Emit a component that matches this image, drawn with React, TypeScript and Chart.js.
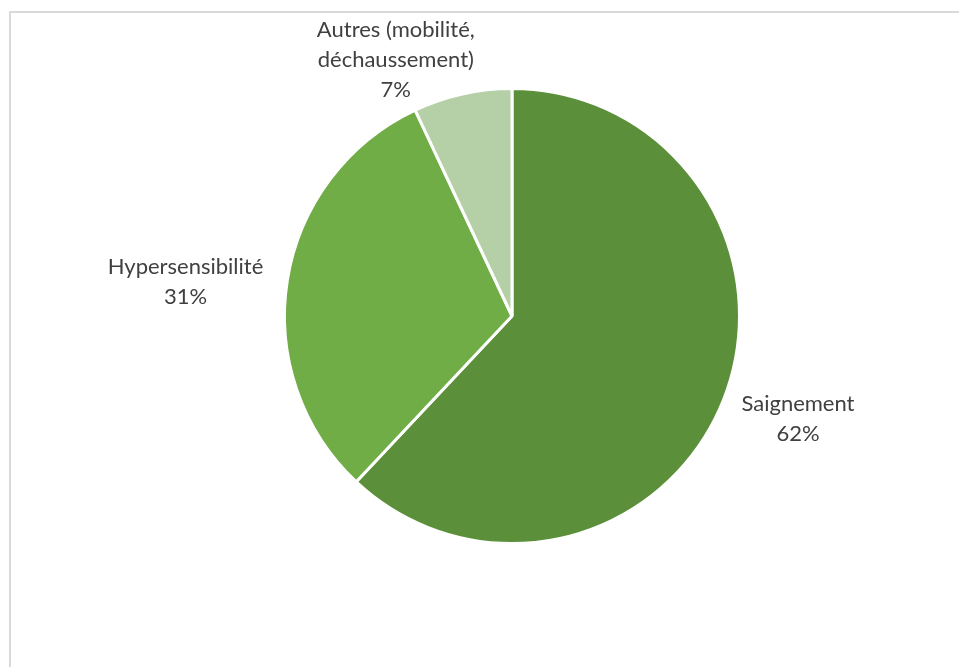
import React, { useEffect, useRef } from "react";
import { Chart, registerables } from "chart.js";

Chart.register(...registerables);

const categories: string[][] = [
  ["Saignement"],
  ["Hypersensibilité"],
  ["Autres (mobilité,", "déchaussement)"],
];
const values: number[] = [62, 31, 7];
const percentLabels: string[] = ["62%", "31%", "7%"];
const colors: string[] = ["#5B8F3A", "#70AD47", "#B5CFA6"];

const labelPlugin = {
  id: "outsideLabels",
  afterDatasetsDraw(chart: any, _args: any, opts: any) {
    const ctx = chart.ctx;
    const meta = chart.getDatasetMeta(0);
    const font = opts.font;
    const lh = opts.lineHeight;
    ctx.save();
    ctx.font = font;
    ctx.fillStyle = opts.color;
    ctx.textAlign = "center";
    ctx.textBaseline = "middle";
    meta.data.forEach((arc: any, i: number) => {
      const p = arc.getProps(["x", "y", "startAngle", "endAngle", "outerRadius"], true);
      const mid = (p.startAngle + p.endAngle) / 2;
      const off = opts.offsets[i] || [0, 0, 0];
      const d = p.outerRadius + off[0];
      const cx = p.x + Math.cos(mid) * d + off[1];
      const cy = p.y + Math.sin(mid) * d + off[2];
      const lines = [...categories[i], percentLabels[i]];
      const top = cy - ((lines.length - 1) * lh) / 2;
      lines.forEach((t, j) => ctx.fillText(t, cx, top + j * lh));
    });
    ctx.restore();
  },
};

export default function App() {
  const ref = useRef<HTMLCanvasElement | null>(null);
  useEffect(() => {
    if (!ref.current) return;
    const chart = new Chart(ref.current, {
      type: "pie",
      data: {
        labels: categories.map((c) => c.join(" ")),
        datasets: [
          {
            data: values,
            backgroundColor: colors,
            borderColor: "#ffffff",
            borderWidth: 3,
          },
        ],
      },
      options: {
        animation: false,
        responsive: false,
        maintainAspectRatio: false,
        layout: { padding: { top: 87, bottom: 122, left: 283, right: 218 } },
        plugins: {
          legend: { display: false },
          tooltip: { enabled: false },
          outsideLabels: {
            font: "22px Lato",
            color: "#404040",
            lineHeight: 30,
            offsets: [
              [79, 1, -10],
              [100, -3, 17],
              [53, -55, 18],
            ],
          },
        } as any,
      },
      plugins: [labelPlugin],
    });
    return () => chart.destroy();
  }, []);
  return (
    <div
      style={{
        position: "fixed",
        left: 0,
        top: 0,
        width: 959,
        height: 667,
        overflow: "hidden",
        background: "#ffffff",
      }}
    >
      <div
        style={{
          position: "absolute",
          left: 9,
          top: 11,
          width: 1000,
          height: 700,
          border: "2px solid #D9D9D9",
        }}
      />
      <canvas
        ref={ref}
        width={959}
        height={667}
        style={{ position: "absolute", left: 0, top: 0, width: 959, height: 667 }}
      />
    </div>
  );
}
